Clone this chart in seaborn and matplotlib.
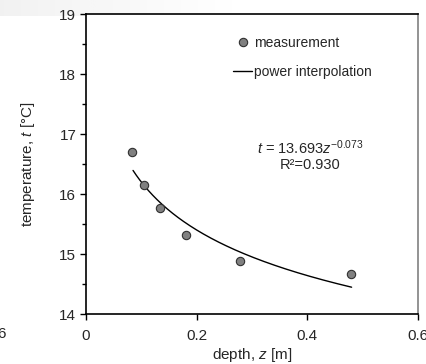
import numpy as np
import pandas as pd
import matplotlib
matplotlib.use("Agg")
import matplotlib.pyplot as plt
from matplotlib.ticker import MultipleLocator
from matplotlib.lines import Line2D
import seaborn as sns

# data
depth = [0.084, 0.104, 0.134, 0.180, 0.278, 0.479]
temperature = [16.70, 16.15, 15.76, 15.31, 14.88, 14.67]
fit_a = 13.693
fit_b = -0.073
fit_range = [0.085, 0.48]
x_ticks = [0, 0.2, 0.4, 0.6]
x_tick_labels = ["0", "0.2", "0.4", "0.6"]
y_ticks = [14, 15, 16, 17, 18, 19]

sns.set_theme(style="white")
plt.rcParams['font.family'] = ['Liberation Sans', 'DejaVu Sans']
plt.rcParams['mathtext.fontset'] = 'custom'
plt.rcParams['mathtext.it'] = 'Liberation Sans:italic'
plt.rcParams['mathtext.rm'] = 'Liberation Sans'

fig = plt.figure(figsize=(4.27, 3.64), dpi=100)
ax = fig.add_axes([86/427, 1-314/364, (418-86)/427, 300/364])

# faint gradient at top-left
gax = fig.add_axes([0, 1-16/364, 240/427, 16/364], zorder=-5)
grad = np.linspace(0, 1, 256)[None, :]
gax.imshow(grad, aspect='auto', cmap='Greys_r', vmin=-8, vmax=1)
gax.axis('off')

df = pd.DataFrame({"depth": depth, "temperature": temperature})
zz = np.linspace(fit_range[0], fit_range[1], 200)
fit_df = pd.DataFrame({"depth": zz, "temperature": fit_a * zz ** fit_b})

sns.lineplot(data=fit_df, x="depth", y="temperature", ax=ax, color="black", lw=1.0)
sns.scatterplot(data=df, x="depth", y="temperature", ax=ax, color="#808080",
                edgecolor="#303030", linewidth=0.8, s=36, zorder=3)

ax.set_xlim(0, 0.6)
ax.set_ylim(14, 19)
ax.set_xticks(x_ticks)
ax.set_xticklabels(x_tick_labels)
ax.set_yticks(y_ticks)
ax.yaxis.set_minor_locator(MultipleLocator(0.5))
ax.tick_params(axis='x', which='major', direction='out', length=4, width=1,
               labelsize=11, color='black', pad=7, bottom=True)
ax.tick_params(axis='y', which='major', direction='out', length=4, width=1,
               labelsize=11, color='black', pad=3, left=True)
ax.tick_params(axis='y', which='minor', direction='out', length=3, width=1, left=True, color='black')
for s in ['left', 'bottom', 'top']:
    ax.spines[s].set_color('black')
    ax.spines[s].set_linewidth(1.2)
ax.spines['right'].set_color('#808080')
ax.spines['right'].set_linewidth(1.2)

ax.set_xlabel(r"depth, $\it{z}$ [m]", fontsize=11, labelpad=2)
ax.set_ylabel(r"temperature, $\it{t}$ [°C]", fontsize=11, labelpad=16)

handles = [Line2D([], [], marker='o', ls='', color='#808080', markeredgecolor='#303030',
                  markersize=6, markeredgewidth=0.8),
           Line2D([], [], color='black', lw=1.0)]
ax.legend(handles, ["measurement", "power interpolation"], loc='upper left',
          bbox_to_anchor=(0.405, 0.968), frameon=False, fontsize=10,
          handlelength=1.4, handletextpad=0.1, labelspacing=1.05)

ax.text(0.405, 16.77, r"$\it{t}$ = 13.693$\it{z}^{-0.073}$", fontsize=10.5, ha='center', va='center')
ax.text(0.405, 16.48, "R²=0.930", fontsize=10.5, ha='center', va='center')

fig.text(2/427, 1-334/364, "6", fontsize=11, ha='center', va='center')

fig.savefig("out.png", dpi=100)
